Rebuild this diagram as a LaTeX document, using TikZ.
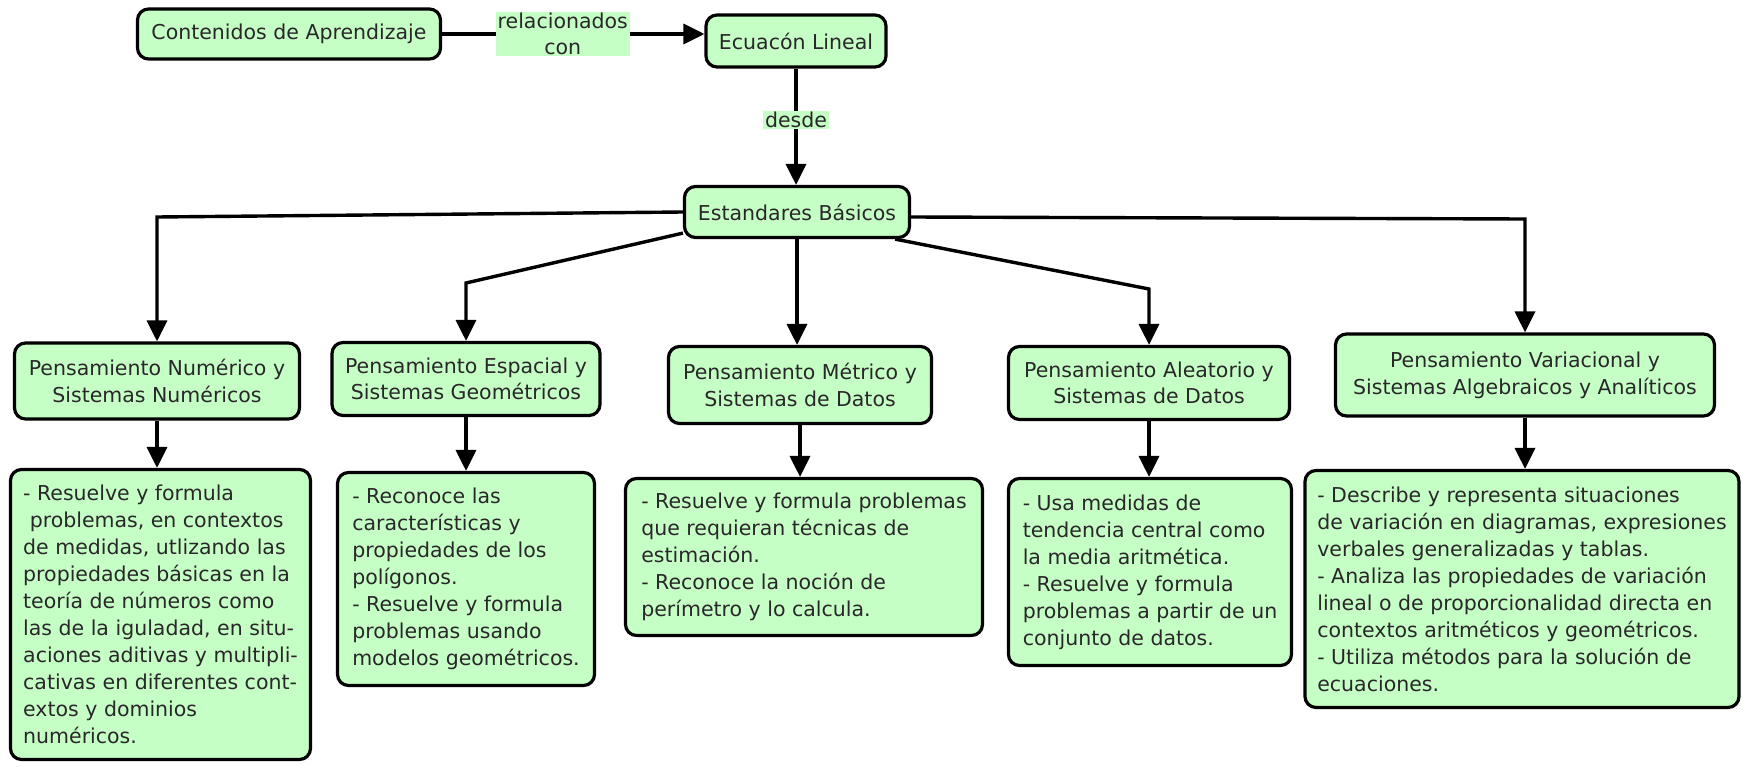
\documentclass[tikz,border=0pt]{standalone}
\usepackage{fontspec}
\setmainfont{DejaVu Sans}
\usetikzlibrary{arrows.meta}
\definecolor{mapgreen}{RGB}{198,255,198}
\definecolor{maptext}{RGB}{40,40,40}

\begin{document}
\begin{tikzpicture}[x=1pt,y=-1pt,
    concept/.style={draw=black,line width=3.2pt,fill=mapgreen,rounded corners=11pt,text=maptext,
        align=center,inner sep=4pt,font=\fontsize{20.5}{26.7}\selectfont},
    detail/.style={concept,align=left,font=\fontsize{20.5}{27}\selectfont},
    linklabel/.style={fill=mapgreen,text=maptext,inner xsep=2pt,inner ysep=1pt,align=center,
        font=\fontsize{20.5}{26}\selectfont},
    link/.style={black,line width=3.4pt,-{Triangle[length=21pt,width=20pt]}}]
    \useasboundingbox (0,0) rectangle (1743,768);
    \node[concept,minimum width=303pt,minimum height=50pt] (cont) at (289,34) {Contenidos de Aprendizaje};
    \node[concept,minimum width=180pt,minimum height=52pt] (ecua) at (796,41) {Ecuacón Lineal};
    \node[concept,minimum width=225pt,minimum height=51pt] (est) at (797,212) {Estandares Básicos};
    \node[concept,minimum width=285pt,minimum height=76pt] (num) at (157,381) {Pensamiento Numérico y\\Sistemas Numéricos};
    \node[concept,minimum width=268pt,minimum height=73pt] (esp) at (466,379) {Pensamiento Espacial y\\Sistemas Geométricos};
    \node[concept,minimum width=263pt,minimum height=77pt] (met) at (800,385) {Pensamiento Métrico y\\Sistemas de Datos};
    \node[concept,minimum width=281pt,minimum height=73pt] (ale) at (1149,383) {Pensamiento Aleatorio y\\Sistemas de Datos};
    \node[concept,minimum width=379pt,minimum height=82pt] (var) at (1525,375) {Pensamiento Variacional y\\Sistemas Algebraicos y Analíticos};
    \node[detail,minimum width=300pt,minimum height=290pt] (numd) at (160.5,614.5) {- Resuelve y formula\\\hspace*{0.32em}problemas, en contextos\\de medidas, utlizando las\\propiedades básicas en la\\teoría de números como\\las de la iguladad, en situ-\\aciones aditivas y multipli-\\cativas en diferentes cont-\\extos y dominios\\numéricos.};
    \node[detail,minimum width=257pt,minimum height=213pt] (espd) at (466,579) {- Reconoce las\\características y\\propiedades de los\\polígonos.\\- Resuelve y formula\\problemas usando\\modelos geométricos.};
    \node[detail,minimum width=357pt,minimum height=157pt] (metd) at (804,557) {- Resuelve y formula problemas\\que requieran técnicas de\\estimación.\\- Reconoce la noción de\\perímetro y lo calcula.};
    \node[detail,minimum width=283pt,minimum height=187pt] (aled) at (1150,572) {- Usa medidas de\\tendencia central como\\la media aritmética.\\- Resuelve y formula\\problemas a partir de un\\conjunto de datos.};
    \node[detail,minimum width=434pt,minimum height=237pt] (vard) at (1522,589) {- Describe y representa situaciones\\de variación en diagramas, expresiones\\verbales generalizadas y tablas.\\- Analiza las propiedades de variación\\lineal o de proporcionalidad directa en\\contextos aritméticos y geométricos.\\- Utiliza métodos para la solución de\\ecuaciones.};
    \coordinate (c1) at (157,217);
    \coordinate (c2) at (466,283);
    \coordinate (c4) at (1149,289);
    \coordinate (c5) at (1525,219);
    \draw[link] (cont.east) -- node[linklabel,pos=0.46] (rel) {relacionados\\con} (cont.east -| ecua.west);
    \draw[link] (ecua.south) -- node[linklabel,pos=0.44] (desde) {desde} (ecua.south |- est.north);
    \draw[link] (est.west) -- (c1) -- (num.north);
    \draw[link] ([yshift=6pt]est.south west) -- (c2) -- (esp.north);
    \draw[link] (est.south) -- (est.south |- met.north);
    \draw[link] ([xshift=-16pt]est.south east) -- (c4) -- (ale.north);
    \draw[link] ([yshift=-5pt]est.east) -- (c5) -- (var.north);
    \draw[link] (num.south) -- (num.south |- numd.north);
    \draw[link] (esp.south) -- (esp.south |- espd.north);
    \draw[link] (met.south) -- (met.south |- metd.north);
    \draw[link] (ale.south) -- (ale.south |- aled.north);
    \draw[link] (var.south) -- (var.south |- vard.north);
\end{tikzpicture}
\end{document}
